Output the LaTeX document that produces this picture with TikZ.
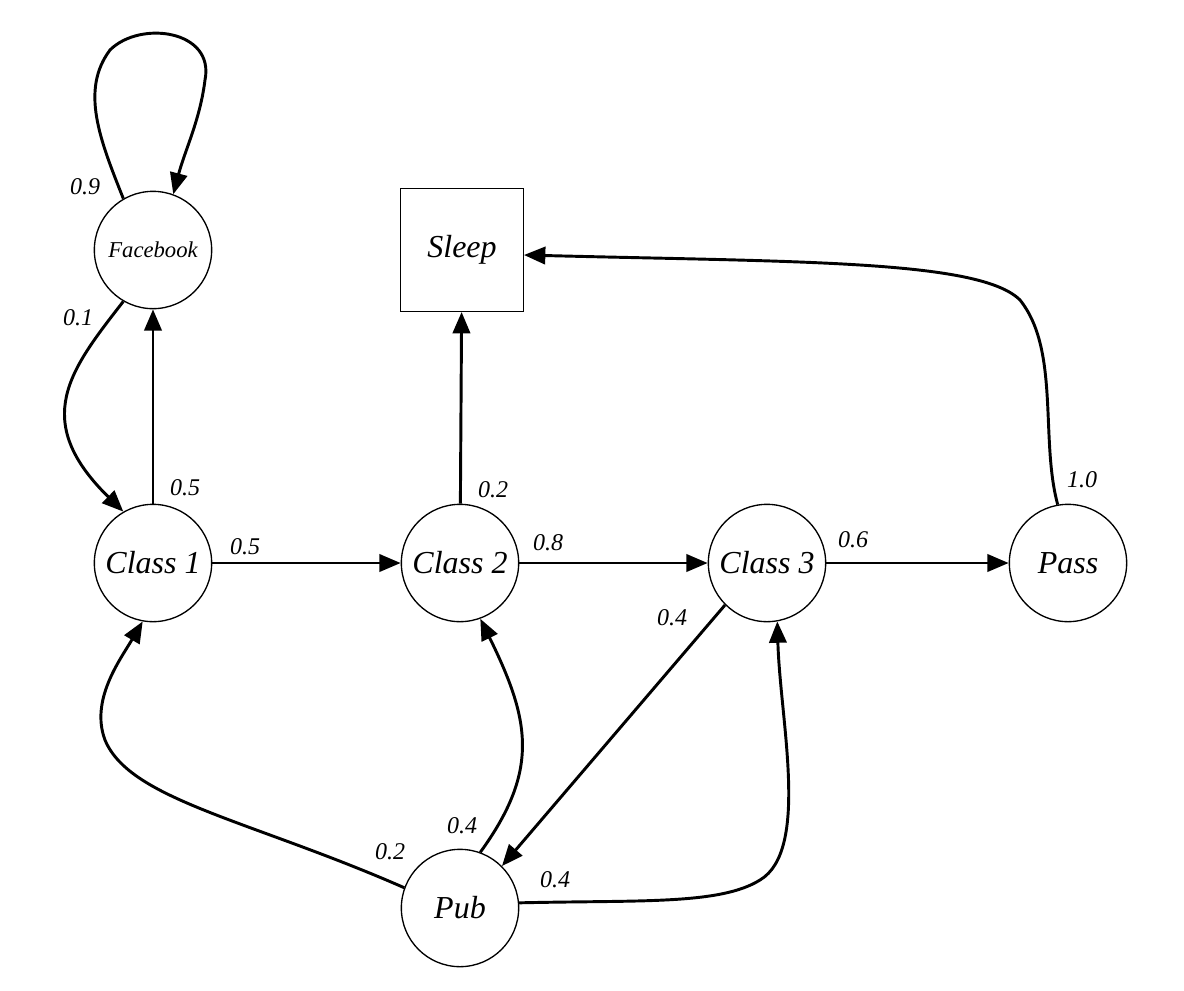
\documentclass[tikz,border=0pt]{standalone}
\usepackage{fontspec}
\setmainfont{Liberation Serif}
\usetikzlibrary{arrows.meta}
\begin{document}
\begin{tikzpicture}[x=0.75pt,y=-0.75pt,
  st/.style={circle,draw,line width=1pt,minimum size=88pt,inner sep=0pt,font=\fontsize{24}{26}\selectfont\itshape},
  ed/.style={line width=2.2pt,-{Triangle[length=16pt,width=13pt]}},
  lb/.style={font=\fontsize{18}{20}\selectfont\itshape}]
\useasboundingbox (0,0) rectangle (1184,990);
\node[st,font=\fontsize{17}{19}\selectfont\itshape] (fb) at (153,250) {Facebook};
\node[draw,line width=1pt,minimum size=92pt,inner sep=0pt,font=\fontsize{24}{26}\selectfont\itshape] (sl) at (462,250) {Sleep};
\node[st] (c1) at (153,563) {Class 1};
\node[st] (c2) at (460,563) {Class 2};
\node[st] (c3) at (767,563) {Class 3};
\node[st] (ps) at (1068,563) {Pass};
\node[st] (pb) at (460,908) {Pub};

\draw[ed] (fb.120) .. controls (100,140) and (80,90) .. (110,50) .. controls (140,20) and (215,30) .. (205,80) .. controls (200,120) and (185,150) .. (fb.70);
\draw[ed] (fb.240) .. controls (70,370) and (30,420) .. (c1.120);
\draw[ed] (c1) -- (fb);
\draw[ed] (c1) -- (c2);
\draw[ed] (c2) -- (sl);
\draw[ed] (c2) -- (c3);
\draw[ed] (c3) -- (ps);
\draw[ed] (ps.100) .. controls (1040,440) and (1060,350) .. (1020,300) .. controls (980,260) and (800,262) .. (sl.east |- 0,255);
\draw[ed] (c3.225) -- (pb.45);
\draw[ed] (pb.160) .. controls (250,820) and (130,800) .. (105,740) .. controls (90,700) and (120,660) .. (c1.260);
\draw[ed] (pb.70) .. controls (540,770) and (530,720) .. (c2.290);
\draw[ed] (pb.5) .. controls (640,900) and (720,905) .. (760,880) .. controls (810,850) and (780,720) .. (c3.280);

\node[lb] (l1) at (85,187) {0.9};
\node[lb] (l2) at (78,318) {0.1};
\node[lb] (l3) at (185,488) {0.5};
\node[lb] (l4) at (245,547) {0.5};
\node[lb] (l5) at (493,490) {0.2};
\node[lb] (l6) at (548,543) {0.8};
\node[lb] (l7) at (853,540) {0.6};
\node[lb] (l8) at (1082,480) {1.0};
\node[lb] (l9) at (672,618) {0.4};
\node[lb] (l10) at (390,852) {0.2};
\node[lb] (l11) at (462,826) {0.4};
\node[lb] (l12) at (555,880) {0.4};
\end{tikzpicture}
\end{document}
